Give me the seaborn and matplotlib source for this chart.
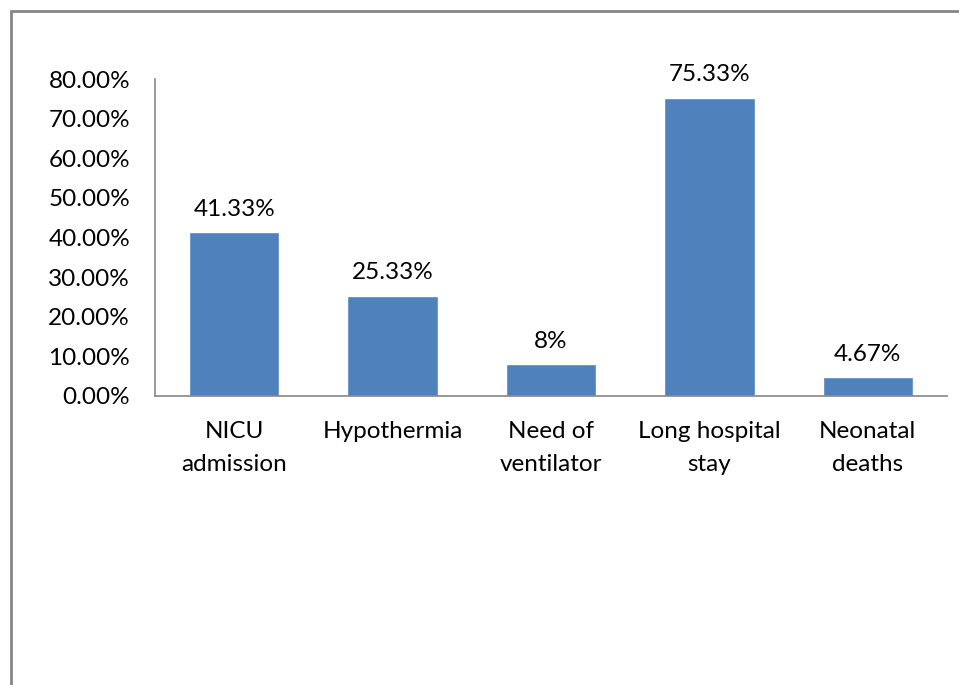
import matplotlib
matplotlib.use("Agg")
import matplotlib.pyplot as plt
import seaborn as sns
import pandas as pd
from matplotlib.patches import Rectangle
from matplotlib.ticker import FuncFormatter

categories = ["NICU\nadmission", "Hypothermia", "Need of\nventilator", "Long hospital\nstay", "Neonatal\ndeaths"]
values = [41.33, 25.33, 8, 75.33, 4.67]
value_labels = ["41.33%", "25.33%", "8%", "75.33%", "4.67%"]

sns.set_style("white")
plt.rcParams['font.family'] = ['Lato', 'DejaVu Sans']
plt.rcParams['text.color'] = 'black'
plt.rcParams['xtick.color'] = 'black'
plt.rcParams['ytick.color'] = 'black'

df = pd.DataFrame({"cat": categories, "val": values})

fig = plt.figure(figsize=(9.59, 6.85), dpi=100)
ax = fig.add_axes([155/959, 1 - 396/685, (947 - 155)/959, (396 - 79)/685])

sns.barplot(df, x="cat", y="val", color="#4F81BD", saturation=1, width=0.57, ax=ax)
ax.bar_label(ax.containers[0], labels=value_labels, padding=9, fontsize=17.5)

ax.set_ylim(0, 80)
ax.set_yticks(range(0, 81, 10))
ax.yaxis.set_major_formatter(FuncFormatter(lambda v, p: f"{v:.2f}%"))
ax.set(xlabel="", ylabel="")
ax.tick_params(axis="both", length=0, labelsize=17.5)
ax.tick_params(axis="y", pad=18)
ax.tick_params(axis="x", pad=18)
for t in ax.get_xticklabels():
    t.set_linespacing(1.7)

for s in ["top", "right"]:
    ax.spines[s].set_visible(False)
for s in ["left", "bottom"]:
    ax.spines[s].set_color("#868686")
    ax.spines[s].set_linewidth(1.2)

# chart-area border (only top and left visible in the crop)
fig.patches.append(Rectangle((10.5/959, -0.5), 2, 0.5 + 1 - 10.5/685,
                             transform=fig.transFigure, fill=False,
                             edgecolor="#868686", linewidth=2))

fig.savefig("out.png", dpi=100)
